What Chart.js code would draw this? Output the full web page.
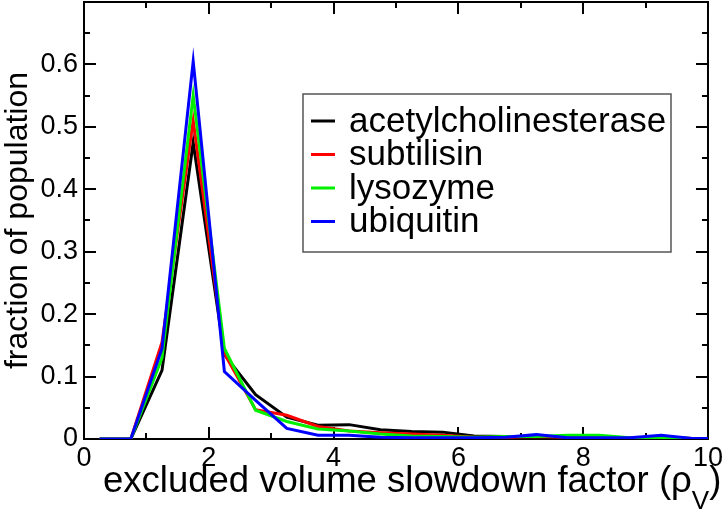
<!DOCTYPE html>
<html>
<head>
<meta charset="utf-8">
<script src="https://cdn.jsdelivr.net/npm/chart.js@4.4.0/dist/chart.umd.min.js"></script>
<style>
  html, body { margin: 0; padding: 0; background: #fff; }
  canvas { display: block; }
</style>
</head>
<body>
<canvas id="slowdownChart" width="726" height="513"></canvas>
<script>
// --- values (bin centres every 0.5) ---
const binCentres = [0.25, 0.75, 1.25, 1.75, 2.25, 2.75, 3.25, 3.75, 4.25, 4.75, 5.25,
                    5.75, 6.25, 6.75, 7.25, 7.75, 8.25, 8.75, 9.25, 9.75, 10.25];

const acetylcholinesterase = [0, 0, 0.110, 0.475, 0.135, 0.071, 0.035, 0.022, 0.023, 0.015, 0.012,
                              0.011, 0.005, 0.004, 0.003, 0.002, 0.002, 0.001, 0.002, 0.001, 0.001];
const subtilisin = [0, 0, 0.155, 0.510, 0.137, 0.047, 0.038, 0.020, 0.013, 0.010, 0.008,
                    0.006, 0.003, 0.003, 0.004, 0.003, 0.003, 0.002, 0.002, 0.001, 0.001];
const lysozyme = [0, 0, 0.130, 0.550, 0.145, 0.046, 0.028, 0.016, 0.013, 0.008, 0.005,
                  0.004, 0.003, 0.004, 0.004, 0.006, 0.006, 0.002, 0.002, 0.001, 0.001];
const ubiquitin = [0, 0, 0.145, 0.605, 0.108, 0.062, 0.017, 0.006, 0.006, 0.003, 0.002,
                   0.002, 0.002, 0.003, 0.007, 0.002, 0.002, 0.002, 0.006, 0.001, 0.001];

const seriesNames = ['acetylcholinesterase', 'subtilisin', 'lysozyme', 'ubiquitin'];
const seriesColors = ['#000000', '#ff0000', '#00f000', '#0000ff'];

const xTickLabels = ['0', '2', '4', '6', '8', '10'];
const yTickLabels = ['0', '0.1', '0.2', '0.3', '0.4', '0.5', '0.6'];

const xTitle = 'excluded volume slowdown factor (\u03c1';
const xTitleSub = 'V';
const yTitle = 'fraction of population';

const FONT = '"Liberation Sans", Arial, Helvetica, sans-serif';

function toPoints(values) {
    return values.map((v, i) => ({ x: binCentres[i], y: v }));
}

const allSeries = [acetylcholinesterase, subtilisin, lysozyme, ubiquitin];

// frame + inward ticks on all four sides (xmgrace look)
const framePlugin = {
    id: 'frame',
    beforeDatasetsDraw(chart) {
        const { ctx, chartArea: a, scales } = chart;
        const x = scales.x, y = scales.y;
        ctx.save();
        ctx.strokeStyle = '#000';
        ctx.lineWidth = 2;
        ctx.strokeRect(a.left, a.top, a.width, a.height);
        ctx.beginPath();
        for (let v = 0; v <= 10; v++) {
            const px = Math.round(x.getPixelForValue(v));
            const len = v % 2 === 0 ? 12 : 6;
            ctx.moveTo(px, a.bottom); ctx.lineTo(px, a.bottom - len);
            ctx.moveTo(px, a.top); ctx.lineTo(px, a.top + len);
        }
        for (let i = 0; i <= 14; i++) {
            const py = Math.round(y.getPixelForValue(i * 0.05));
            const len = i % 2 === 0 ? 12 : 6;
            ctx.moveTo(a.left, py); ctx.lineTo(a.left + len, py);
            ctx.moveTo(a.right, py); ctx.lineTo(a.right - len, py);
        }
        ctx.stroke();
        ctx.restore();
    },
    afterDraw(chart) {
        const { ctx, chartArea: a } = chart;
        ctx.save();
        ctx.fillStyle = '#000';

        // x title with subscript
        const big = '36.5px ' + FONT, small = '26px ' + FONT;
        ctx.font = big;
        const w1 = ctx.measureText(xTitle).width;
        let tx = 103;
        const base = 492;
        ctx.textBaseline = 'alphabetic';
        ctx.textAlign = 'left';
        ctx.fillText(xTitle, tx, base);
        ctx.font = small;
        const wSub = ctx.measureText(xTitleSub).width;
        ctx.fillText(xTitleSub, tx + w1, base + 17);
        ctx.font = big;
        ctx.fillText(')', tx + w1 + wSub, base);

        // y title, rotated
        ctx.save();
        ctx.translate(27, (a.top + a.bottom) / 2);
        ctx.rotate(-Math.PI / 2);
        ctx.textAlign = 'center';
        ctx.font = '32px ' + FONT;
        ctx.fillText(yTitle, 0, 0);
        ctx.restore();

        // legend box inside plot
        const box = { left: 303, top: 94, right: 671, bottom: 252 };
        ctx.lineWidth = 1.5;
        ctx.strokeStyle = '#555';
        ctx.strokeRect(box.left, box.top, box.right - box.left, box.bottom - box.top);
        ctx.font = '35px ' + FONT;
        ctx.textBaseline = 'middle';
        chart.data.datasets.forEach((ds, i) => {
            const cy = 121 + i * 33.5;
            ctx.strokeStyle = ds.borderColor;
            ctx.lineWidth = 3;
            ctx.beginPath();
            ctx.moveTo(311, cy);
            ctx.lineTo(335, cy);
            ctx.stroke();
            ctx.fillText(ds.label, 349, cy + 1);
        });
        ctx.restore();
    }
};

const ctx = document.getElementById('slowdownChart').getContext('2d');
const slowdownChart = new Chart(ctx, {
    type: 'line',
    data: {
        datasets: allSeries.map((vals, i) => ({
            label: seriesNames[i],
            data: toPoints(vals),
            borderColor: seriesColors[i],
            backgroundColor: seriesColors[i],
            borderWidth: 3,
            pointRadius: 0,
            tension: 0,
            fill: false,
            order: allSeries.length - 1 - i
        }))
    },
    options: {
        responsive: false,
        animation: false,
        devicePixelRatio: 1,
        layout: { padding: { top: 2, right: 17, left: 0, bottom: 0 } },
        plugins: { legend: { display: false }, tooltip: { enabled: false } },
        scales: {
            x: {
                type: 'linear',
                min: 0, max: 10,
                grid: { display: false, drawTicks: false },
                border: { display: false },
                ticks: {
                    stepSize: 2,
                    padding: 3,
                    color: '#000',
                    font: { family: FONT, size: 27 },
                    maxRotation: 0,
                    callback: v => xTickLabels[v / 2] ?? null
                },
                afterFit: s => { s.height = 74; }
            },
            y: {
                min: 0, max: 0.7,
                grid: { display: false, drawTicks: false },
                border: { display: false },
                ticks: {
                    stepSize: 0.1,
                    padding: 6,
                    color: '#000',
                    font: { family: FONT, size: 27 },
                    callback: v => yTickLabels[Math.round(v * 10)] ?? null
                },
                afterFit: s => { s.width = 84; s.paddingTop = 0; }
            }
        }
    },
    plugins: [framePlugin]
});
</script>
</body>
</html>
